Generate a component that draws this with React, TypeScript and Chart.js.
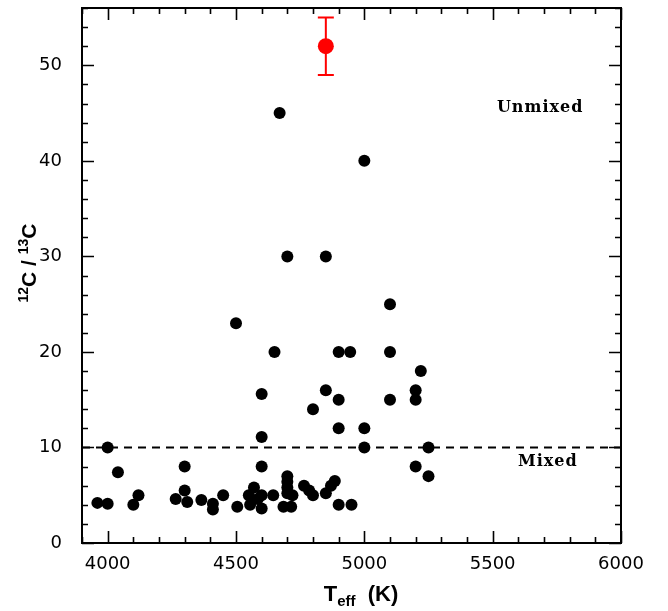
import React, { useEffect, useRef } from "react";
import { Chart, registerables } from "chart.js";

Chart.register(...registerables);

// Black points: effective temperature (K) and 12C/13C ratio
const teff = [
  3960, 4000, 4000, 4040, 4100, 4120,
  4265, 4300, 4300, 4310, 4365, 4410, 4410, 4450,
  4500, 4505,
  4550, 4570, 4555, 4585, 4600, 4600, 4600, 4600, 4600,
  4650, 4645, 4670,
  4700, 4700, 4700, 4700, 4700, 4685, 4715, 4720,
  4765, 4785, 4800, 4800,
  4850, 4850, 4850, 4870, 4885,
  4900, 4900, 4900, 4900,
  4945, 4950,
  5000, 5000, 5000,
  5100, 5100, 5100,
  5200, 5200, 5220, 5200, 5250, 5250,
];
const ratio = [
  4.2, 4.1, 10, 7.4, 4.0, 5.0,
  4.6, 8, 5.5, 4.3, 4.5, 4.1, 3.5, 5.0,
  23, 3.8,
  5.0, 5.8, 4.0, 4.6, 5.0, 3.6, 8, 11.1, 15.6,
  20, 5.0, 45,
  30, 7, 6.4, 5.8, 5.2, 3.8, 3.8, 5.0,
  6.0, 5.5, 5.0, 14,
  30, 16, 5.2, 6.0, 6.5,
  20, 15, 12, 4.0,
  20, 4.0,
  40, 12, 10,
  25, 20, 15,
  16, 15, 18, 8, 10, 7,
];

// Highlighted (red) star with error bar
const redTeff = [4850];
const redRatio = [52];
const redErrLow = [49];
const redErrHigh = [55];

// Axis ranges and ticks
const xMin = 3900;
const xMax = 6000;
const yMin = 0;
const yMax = 56;
const xTicks = [4000, 4500, 5000, 5500, 6000];
const yTicks = [0, 10, 20, 30, 40, 50];
const xMinorStep = 100;
const yMinorStep = 2;

// Mixed / unmixed boundary
const mixedLimit = 10;
const unmixedLabel = { text: "Unmixed", x: 5685, y: 45.6 };
const mixedLabel = { text: "Mixed", x: 5715, y: 8.5 };

const decorPlugin = {
  id: "decor",
  afterDraw(chart: any) {
    const ctx = chart.ctx;
    const xs = chart.scales.x;
    const ys = chart.scales.y;
    const { left, right, top, bottom } = chart.chartArea;
    ctx.save();

    // error bar
    ctx.strokeStyle = "#ff0000";
    ctx.lineWidth = 2;
    for (let i = 0; i < redTeff.length; i++) {
      const px = xs.getPixelForValue(redTeff[i]);
      const pl = ys.getPixelForValue(redErrLow[i]);
      const ph = ys.getPixelForValue(redErrHigh[i]);
      ctx.beginPath();
      ctx.moveTo(px, pl);
      ctx.lineTo(px, ph);
      ctx.moveTo(px - 8, pl);
      ctx.lineTo(px + 8, pl);
      ctx.moveTo(px - 8, ph);
      ctx.lineTo(px + 8, ph);
      ctx.stroke();
    }

    // frame
    ctx.strokeStyle = "#000";
    ctx.lineWidth = 2;
    ctx.strokeRect(left, top, right - left, bottom - top);

    // ticks (inward, mirrored)
    ctx.lineWidth = 1.6;
    ctx.beginPath();
    for (let v = xMin; v <= xMax; v += xMinorStep) {
      const px = Math.round(xs.getPixelForValue(v)) + 0.5;
      const len = xTicks.includes(v) ? 12 : 6;
      ctx.moveTo(px, bottom);
      ctx.lineTo(px, bottom - len);
      ctx.moveTo(px, top);
      ctx.lineTo(px, top + len);
    }
    for (let v = yMin; v <= yMax; v += yMinorStep) {
      const py = Math.round(ys.getPixelForValue(v)) + 0.5;
      const len = yTicks.includes(v) ? 12 : 6;
      ctx.moveTo(left, py);
      ctx.lineTo(left + len, py);
      ctx.moveTo(right, py);
      ctx.lineTo(right - len, py);
    }
    ctx.stroke();

    // region labels
    ctx.fillStyle = "#000";
    ctx.font = "bold 16px 'DejaVu Serif'";
    ctx.textAlign = "center";
    ctx.textBaseline = "middle";
    try { (ctx as any).letterSpacing = "1px"; } catch (e) {}
    ctx.fillText(unmixedLabel.text, xs.getPixelForValue(unmixedLabel.x), ys.getPixelForValue(unmixedLabel.y));
    ctx.fillText(mixedLabel.text, xs.getPixelForValue(mixedLabel.x), ys.getPixelForValue(mixedLabel.y));
    try { (ctx as any).letterSpacing = "0px"; } catch (e) {}

    // x axis title: T_eff (K)
    const big = "bold 22px 'Liberation Sans'";
    const small = "bold 15px 'Liberation Sans'";
    ctx.textAlign = "left";
    ctx.textBaseline = "alphabetic";
    const parts: [string, string, number][] = [
      ["T", big, 0],
      ["eff", small, 5],
      ["  (K)", big, 0],
    ];
    let total = 0;
    for (const [t, f] of parts) { ctx.font = f; total += ctx.measureText(t).width; }
    let cx = 361 - total / 2;
    const baseX = 601;
    for (const [t, f, dy] of parts) {
      ctx.font = f;
      ctx.fillText(t, cx, baseX + dy);
      cx += ctx.measureText(t).width;
    }

    // y axis title: 12C / 13C
    ctx.save();
    ctx.translate(36, 263);
    ctx.rotate(-Math.PI / 2);
    const yBig = "bold 21px 'Liberation Sans'";
    const ySmall = "bold 14px 'Liberation Sans'";
    const yparts: [string, string, number][] = [
      ["12", ySmall, -8],
      ["C / ", yBig, 0],
      ["13", ySmall, -8],
      ["C", yBig, 0],
    ];
    let yt = 0;
    for (const [t, f] of yparts) { ctx.font = f; yt += ctx.measureText(t).width; }
    let cy = -yt / 2;
    for (const [t, f, dy] of yparts) {
      ctx.font = f;
      ctx.fillText(t, cy, dy);
      cy += ctx.measureText(t).width;
    }
    ctx.restore();

    ctx.restore();
  },
};

export default function App() {
  const ref = useRef<HTMLCanvasElement | null>(null);
  useEffect(() => {
    if (!ref.current) return;
    const chart = new Chart(ref.current, {
      type: "scatter",
      data: {
        datasets: [
          {
            type: "line",
            data: [
              { x: xMin, y: mixedLimit },
              { x: xMax, y: mixedLimit },
            ],
            borderColor: "#000",
            borderWidth: 2,
            borderDash: [8, 6],
            pointRadius: 0,
            order: 3,
          } as any,
          {
            data: teff.map((t, i) => ({ x: t, y: ratio[i] })),
            backgroundColor: "#000",
            borderColor: "#000",
            pointRadius: 6,
            pointBorderWidth: 0,
            order: 2,
          },
          {
            data: redTeff.map((t, i) => ({ x: t, y: redRatio[i] })),
            backgroundColor: "#ff0000",
            borderColor: "#ff0000",
            pointRadius: 8,
            pointBorderWidth: 0,
            order: 1,
          },
        ],
      },
      options: {
        animation: false,
        responsive: false,
        layout: { padding: { top: 5, right: 47, left: 0, bottom: 0 } },
        plugins: { legend: { display: false }, tooltip: { enabled: false } },
        scales: {
          x: {
            type: "linear",
            min: xMin,
            max: xMax,
            grid: { display: false },
            border: { display: false },
            afterBuildTicks: (s: any) => { s.ticks = xTicks.map((v) => ({ value: v })); },
            afterFit: (s: any) => { s.height = 68; s.paddingLeft = 0; s.paddingRight = 0; },
            ticks: {
              color: "#000",
              font: { family: "'DejaVu Sans'", size: 18 },
              padding: 3,
              maxRotation: 0,
              callback: (v: any) => String(v),
            },
          },
          y: {
            type: "linear",
            min: yMin,
            max: yMax,
            grid: { display: false },
            border: { display: false },
            afterBuildTicks: (s: any) => { s.ticks = yTicks.map((v) => ({ value: v })); },
            afterFit: (s: any) => { s.width = 82; s.paddingTop = 0; s.paddingBottom = 0; },
            ticks: {
              color: "#000",
              font: { family: "'DejaVu Sans'", size: 18 },
              padding: 12,
              callback: (v: any) => String(v),
            },
          },
        },
      },
      plugins: [decorPlugin],
    });
    return () => chart.destroy();
  }, []);
  return (
    <div style={{ position: "fixed", left: 0, top: 0, width: 668, height: 611, background: "#fff" }}>
      <canvas ref={ref} width={668} height={611} style={{ width: 668, height: 611, display: "block" }} />
    </div>
  );
}
